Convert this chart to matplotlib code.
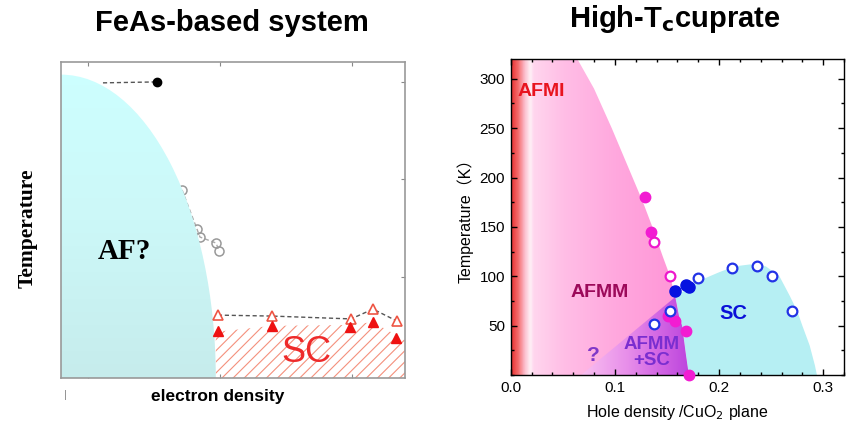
import numpy as np
import matplotlib.pyplot as plt
from matplotlib.patches import Polygon, Ellipse
from matplotlib.colors import LinearSegmentedColormap

plt.rcParams['hatch.linewidth'] = 0.8

# ---- FeAs panel (arbitrary units, 0..1) ----
af_width = 0.45      # AF dome half-width at T=0
af_height = 0.96     # AF dome top
neel_x = [0.122, 0.279]
neel_y = [0.934, 0.937]
open_x = [0.352, 0.395, 0.404, 0.451, 0.459]
open_y = [0.595, 0.472, 0.446, 0.427, 0.402]
tc_on_x = [0.456, 0.613, 0.843, 0.907, 0.977]
tc_on_y = [0.199, 0.196, 0.187, 0.218, 0.180]
tc_x = [0.456, 0.613, 0.840, 0.907, 0.974]
tc_y = [0.149, 0.165, 0.161, 0.177, 0.127]
sc_edge_x = [0.45, 0.613, 0.84, 0.907, 1.0]
sc_edge_y = [0.146, 0.165, 0.168, 0.177, 0.12]

# ---- cuprate panel ----
afm_x = [0.064, 0.080, 0.097, 0.117, 0.127, 0.136, 0.146, 0.153, 0.158]
afm_y = [320, 290, 250, 200, 175, 150, 120, 100, 79]
afm_low_x = [0.158, 0.1615, 0.1645, 0.168, 0.171]
afm_low_y = [79, 60, 50, 22, 0]
mix_left = (0.0676, 0)
dome_x = [0.158, 0.170, 0.180, 0.200, 0.215, 0.230, 0.245, 0.258, 0.268, 0.275, 0.280, 0.287, 0.292, 0.294]
dome_y = [79, 88, 95, 104, 110, 112, 110, 100, 80, 65, 50, 30, 10, 0]

pink_fill_x = [0.129, 0.135, 0.151, 0.158, 0.168, 0.171]
pink_fill_y = [180, 145, 60, 55, 45, 0]
pink_open_x = [0.1375, 0.1527]
pink_open_y = [135, 100]
blue_fill_x = [0.158, 0.1686, 0.171]
blue_fill_y = [85, 91, 89]
blue_open_x = [0.180, 0.212, 0.236, 0.251, 0.270, 0.1527, 0.1375]
blue_open_y = [98, 108, 110, 100, 65, 65, 52]

fig = plt.figure(figsize=(8.54, 4.26), dpi=100)
sans = ['Liberation Sans', 'DejaVu Sans']
serif = ['Liberation Serif', 'DejaVu Serif']

# ================= left =================
ax1 = fig.add_axes([61/854, 48/426, 344/854, 316/426])
ax1.set_xlim(0, 1)
ax1.set_ylim(0, 1)

# hatched SC
scpoly = list(zip(sc_edge_x, sc_edge_y)) + [(1.0, 0), (0.45, 0)]
ax1.add_patch(Polygon(scpoly, closed=True, facecolor='none', edgecolor='#f4907c',
                      hatch='///', lw=0, zorder=1))

# open grey points (partly behind the AF dome)
ax1.plot(open_x, open_y, ls=(0, (3, 2)), color='#aaaaaa', lw=1, marker='o', ms=6.5,
         mfc='none', mec='#999999', mew=1.1, zorder=1.5)

# AF dome with gradient
ell = Ellipse((0, 0), 2*af_width, 2*af_height, facecolor='none', lw=0)
ax1.add_patch(ell)
grad = LinearSegmentedColormap.from_list('cy', ['#c6ecec', '#ccf8f8', '#cdffff'])
im = ax1.imshow(np.linspace(0, 1, 256)[:, None], cmap=grad, extent=(0, 1, 0, 1),
                origin='lower', aspect='auto', zorder=2)
im.set_clip_path(ell)

ax1.plot(neel_x, neel_y, ls=(0, (3, 2)), color='#555555', lw=1, zorder=3)
ax1.plot(neel_x[-1], neel_y[-1], 'o', color='black', ms=6, zorder=4)

ax1.plot(tc_on_x, tc_on_y, ls=(0, (3, 2)), color='#555555', lw=1, marker='^', ms=7,
         mfc='white', mec='#ee5544', mew=1.2, zorder=4, clip_on=False)
ax1.plot(tc_x, tc_y, ls='none', marker='^', ms=7, color='#ee1111', zorder=4, clip_on=False)

ax1.text(0.715, 0.082, 'SC', color='#ee2a2a', fontsize=26, ha='center', va='center',
         family=sans, zorder=5)
ax1.text(0.183, 0.40, 'AF?', color='black', fontsize=21, fontweight='bold',
         ha='center', va='center', family=serif, zorder=5)

for s in ax1.spines.values():
    s.set_color('#999999')
    s.set_linewidth(1.2)
ax1.set_xticks([0.078, 0.462, 0.846])
ax1.set_yticks([0.32, 0.63, 0.937])
ax1.tick_params(direction='in', length=3, color='#888888', top=True, bottom=True,
                left=False, right=True, labelbottom=False, labelleft=False)
fig.text(28/854, 1 - 228/426, 'Temperature', rotation=90, ha='center', va='center',
         fontsize=15.5, fontweight='bold', family=serif)
fig.text(218/854, 1 - 397/426, 'electron density', ha='center', va='center',
         fontsize=12.5, fontweight='bold', family=sans)
fig.text(65/854, 1 - 395/426, '|', ha='center', va='center', fontsize=8,
         color='#888888', family=sans)
fig.text(232/854, 1 - 23/426, 'FeAs-based system', ha='center', va='center',
         fontsize=21, fontweight='bold', family=sans)

# ================= right =================
ax2 = fig.add_axes([510.7/854, 51/426, 333.3/854, 316/426])
ax2.set_xlim(0, 0.32)
ax2.set_ylim(0, 320)

pink_pts = [(0, 0), (0, 320)] + list(zip(afm_x, afm_y)) + list(zip(afm_low_x[1:], afm_low_y[1:]))
pink_poly = Polygon(pink_pts, closed=True, facecolor='none', lw=0)
ax2.add_patch(pink_poly)
stops = [(0.0, '#e83434'), (0.006, '#f46a6a'), (0.012, '#fcb8c8'), (0.018, '#fff2f8'),
         (0.021, '#ffd6ee'), (0.05, '#ffbee6'), (0.10, '#ffa8de'), (0.17, '#ff92d6'),
         (0.32, '#ff90d4')]
pink_cmap = LinearSegmentedColormap.from_list('afmi', [(p / 0.32, c) for p, c in stops])
xs = np.linspace(0, 1, 1000)[None, :]
im2 = ax2.imshow(xs, cmap=pink_cmap, extent=(0, 0.32, 0, 320), origin='lower',
                 aspect='auto', zorder=1)
im2.set_clip_path(pink_poly)

mix_pts = [mix_left] + list(zip(afm_low_x, afm_low_y))
mix_poly = Polygon(mix_pts, closed=True, facecolor='none', lw=0)
ax2.add_patch(mix_poly)
pstops = [(0.0, '#ffb8e8'), (0.068, '#f8bff0'), (0.11, '#e890ea'), (0.14, '#d468e4'),
          (0.172, '#bb44dd'), (0.32, '#bb44dd')]
mix_cmap = LinearSegmentedColormap.from_list('mix', [(p / 0.32, c) for p, c in pstops])
im3 = ax2.imshow(xs, cmap=mix_cmap, extent=(0, 0.32, 0, 320), origin='lower',
                 aspect='auto', zorder=1.2)
im3.set_clip_path(mix_poly)

dome_pts = list(zip(dome_x, dome_y)) + list(zip(afm_low_x[::-1], afm_low_y[::-1]))
ax2.add_patch(Polygon(dome_pts, closed=True, facecolor='#b6eff3', lw=0, zorder=1.1))

ax2.plot(pink_fill_x, pink_fill_y, 'o', color='#f21cd2', ms=7.5, zorder=3, clip_on=False)
ax2.plot(pink_open_x, pink_open_y, 'o', mfc='white', mec='#ee18cc', mew=1.6, ms=7,
         zorder=3, clip_on=False)
ax2.plot(blue_fill_x, blue_fill_y, 'o', color='#0612e0', ms=8, zorder=3, clip_on=False)
ax2.plot(blue_open_x, blue_open_y, 'o', mfc='white', mec='#2233e6', mew=1.6, ms=7,
         zorder=4, clip_on=False)

ax2.text(0.0065, 287, 'AFMI', color='#e8141e', fontsize=14, fontweight='bold',
         ha='left', va='center', family=sans, zorder=5)
ax2.text(0.085, 84, 'AFMM', color='#9c0a5a', fontsize=14, fontweight='bold',
         ha='center', va='center', family=sans, zorder=5)
ax2.text(0.214, 62, 'SC', color='#0a10d8', fontsize=14.5, fontweight='bold',
         ha='center', va='center', family=sans, zorder=5)
ax2.text(0.135, 23, 'AFMM\n+SC', color='#7a2ed0', fontsize=13.5, fontweight='bold',
         ha='center', va='center', linespacing=0.9, family=sans, zorder=5)
ax2.text(0.079, 20, '?', color='#8038c8', fontsize=15, fontweight='bold',
         ha='center', va='center', family=sans, zorder=5)

ax2.set_xticks([0.0, 0.1, 0.2, 0.3])
ax2.set_xticks(np.arange(0, 0.321, 0.02), minor=True)
ax2.set_yticks([50, 100, 150, 200, 250, 300])
ax2.set_yticks(np.arange(0, 321, 25), minor=True)
ax2.set_xticklabels(['0.0', '0.1', '0.2', '0.3'], family=sans, fontsize=11)
ax2.set_yticklabels(['50', '100', '150', '200', '250', '300'], family=sans, fontsize=11)
ax2.tick_params(which='both', direction='in', top=True, right=True, width=1)
ax2.tick_params(which='major', length=4, pad=4)
ax2.tick_params(which='minor', length=2.5)
for s in ax2.spines.values():
    s.set_linewidth(1)
ax2.set_xlabel('Hole density /CuO$_2$ plane', fontsize=11.5, family=sans, labelpad=6)
ax2.set_ylabel('Temperature（K）', fontsize=11.5,
               family=['Liberation Sans', 'Noto Sans CJK JP'], labelpad=4)
fig.text(675/854, 1 - 19/426, r'High-T$_\mathbf{c}$cuprate', ha='center', va='center',
         fontsize=21, fontweight='bold', family=sans)

fig.savefig('out.png', dpi=100)
